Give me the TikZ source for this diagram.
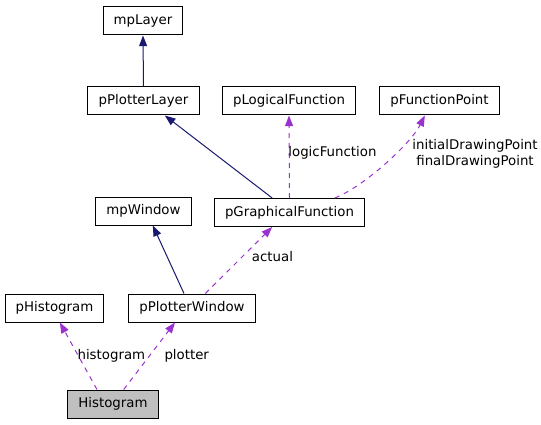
\documentclass[tikz,border=0pt]{standalone}
\usepackage{fontspec}
\setmainfont{DejaVu Sans}
\usetikzlibrary{arrows.meta}

\definecolor{inhcol}{RGB}{25,25,112}
\definecolor{usecol}{RGB}{154,50,205}

\begin{document}
\begin{tikzpicture}[
		x=0.75pt, y=-0.75pt,
		font=\fontsize{10}{12}\selectfont,
		classbox/.style={draw, line width=0.75pt, minimum height=21pt, inner xsep=8pt, inner ysep=0pt},
		inherit/.style={draw=inhcol, line width=0.75pt, -{Triangle[length=8pt, width=6pt, fill=inhcol]}},
		usage/.style={draw=usecol, line width=0.75pt, dash pattern=on 3.75pt off 3.75pt,
		-{Triangle[length=8pt, width=6pt, fill=usecol, sep=0pt]}},
		edgelabel/.style={inner sep=0pt, align=center}
		]
		\useasboundingbox (0,0) rectangle (541,424);
		
		\node[classbox](L0) at (143,21){mpLayer};
		\node[classbox](L1) at (143.5,101){pPlotterLayer};
		\node[classbox](L2) at (289,101){pLogicalFunction};
		\node[classbox](L3) at (439.5,101){pFunctionPoint};
		\node[classbox](L4) at (143.5,211){mpWindow};
		\node[classbox](L5) at (289.5,212.5){pGraphicalFunction};
		\node[classbox](L6) at (54.5,308){pHistogram};
		\node[classbox](L7) at (192,308){pPlotterWindow};
		\node[classbox, fill={rgb,255:red,191;green,191;blue,191}](L8) at (113,404){Histogram};
		
		\draw[inherit] (L1.north) -- (L0.south);
		\draw[inherit] ([xshift=-13pt]L5.north) -- ([xshift=16pt]L1.south);
		\draw[usage] (L5.north) -- (L2.south)
		node [edgelabel, pos=0.55, right, xshift=-1pt]{logicFunction};
		\draw[usage] ([xshift=34pt]L5.north) .. controls ++(30,-12) and ++(-14,28) .. ([xshift=-11pt]L3.south);
		\node[edgelabel] (L3lab) at (475,154){initialDrawingPoint\\finalDrawingPoint};
		\draw[inherit] ([xshift=-6pt]L7.north) -- ([xshift=7pt]L4.south);
		\draw[usage] ([xshift=10pt]L7.north) -- ([xshift=-13pt]L5.south)
		node [edgelabel, pos=0.55, right, xshift=7pt]{actual};
		\draw[usage] ([xshift=-12pt]L8.north) -- ([xshift=4pt]L6.south)
		node [edgelabel, pos=0.5, right, xshift=-1pt]{histogram};
		\draw[usage] ([xshift=8pt]L8.north) -- ([xshift=-12.75pt]L7.south)
		node [edgelabel, pos=0.5, right, xshift=11pt]{plotter};
		
	\end{tikzpicture}
\end{document}
